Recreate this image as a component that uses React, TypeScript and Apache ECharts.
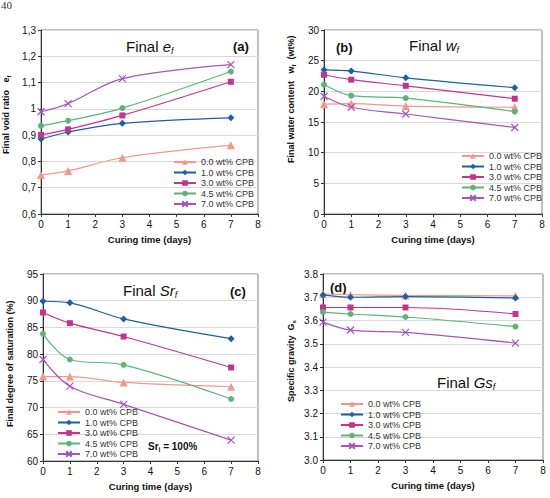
import React, { useEffect, useRef } from 'react';
import * as echarts from 'echarts';

// Curing times (days) shared by all four panels
const days = [0, 1, 3, 7];
const cpbLabels = ['0.0 wt% CPB', '1.0 wt% CPB', '3.0 wt% CPB', '4.5 wt% CPB', '7.0 wt% CPB'];
const xTicks = [0, 1, 2, 3, 4, 5, 6, 7, 8];

// (a) Final void ratio e_f
const voidRatio00 = [0.748, 0.764, 0.814, 0.862];
const voidRatio10 = [0.885, 0.912, 0.945, 0.966];
const voidRatio30 = [0.901, 0.922, 0.975, 1.103];
const voidRatio45 = [0.935, 0.955, 1.003, 1.142];
const voidRatio70 = [0.989, 1.02, 1.115, 1.168];

// (b) Final water content w_f (wt%)
const water00 = [17.9, 18.0, 17.6, 17.4];
const water10 = [23.5, 23.3, 22.2, 20.6];
const water30 = [22.7, 21.9, 20.9, 18.8];
const water45 = [21.1, 19.3, 18.9, 16.7];
const water70 = [19.2, 17.4, 16.3, 14.1];

// (c) Final degree of saturation Sr_f (%)
const sat00 = [75.8, 75.8, 74.7, 73.9];
const sat10 = [89.9, 89.6, 86.6, 82.9];
const sat30 = [87.8, 85.8, 83.3, 77.5];
const sat45 = [83.8, 79.0, 78.0, 71.6];
const sat70 = [79.0, 74.0, 70.6, 63.9];

// (d) Specific gravity Gs_f
const gravity00 = [3.714, 3.711, 3.708, 3.706];
const gravity10 = [3.71, 3.7, 3.703, 3.697];
const gravity30 = [3.656, 3.656, 3.656, 3.628];
const gravity45 = [3.636, 3.628, 3.615, 3.574];
const gravity70 = [3.593, 3.559, 3.549, 3.503];

const panelValues = [
  [voidRatio00, voidRatio10, voidRatio30, voidRatio45, voidRatio70],
  [water00, water10, water30, water45, water70],
  [sat00, sat10, sat30, sat45, sat70],
  [gravity00, gravity10, gravity30, gravity45, gravity70],
];

const FONT = '"Liberation Sans", Arial, Helvetica, sans-serif';
const TEXT = '#111';
const colors = ['#F4978B', '#1F5DA8', '#C4338C', '#5DB37A', '#A455BE'];
const symbols = ['triangle', 'diamond', 'rect', 'circle', 'path://M0,0L10,10M10,0L0,10'];
const symbolSizes = [8, 7, 6, 6, 7];

const grids = [
  { left: 41, top: 30, width: 217, height: 184 },
  { left: 324, top: 30, width: 218, height: 184 },
  { left: 43, top: 274, width: 215, height: 187 },
  { left: 323, top: 274, width: 220, height: 186 },
];

const yRanges = [
  { min: 0.6, max: 1.3, interval: 0.1, fmt: (v: number) => String(Math.round(v * 10) / 10).replace('.', ',') },
  { min: 0, max: 30, interval: 5, fmt: (v: number) => String(v) },
  { min: 60, max: 95, interval: 5, fmt: (v: number) => String(v) },
  { min: 3.0, max: 3.8, interval: 0.1, fmt: (v: number) => v.toFixed(1) },
];

const legendPos = [
  { left: 173, top: 157 },
  { left: 461, top: 151 },
  { left: 57, top: 407 },
  { left: 340, top: 399 },
];

type Part = { t: string; size: number; bold?: boolean; italic?: boolean; dy?: number };

function makeMeasure() {
  const ctx = document.createElement('canvas').getContext('2d') as CanvasRenderingContext2D;
  return (p: Part) => {
    ctx.font = `${p.italic ? 'italic' : 'normal'} ${p.bold ? 'bold' : 'normal'} ${p.size}px ${FONT}`;
    return ctx.measureText(p.t).width;
  };
}

function runChildren(parts: Part[], measure: (p: Part) => number) {
  let x = 0;
  return parts.map((p) => {
    const el = {
      type: 'text',
      x,
      y: p.dy ?? 0,
      style: {
        text: p.t,
        fontSize: p.size,
        fontWeight: p.bold ? 'bold' : 'normal',
        fontStyle: p.italic ? 'italic' : 'normal',
        fontFamily: FONT,
        fill: TEXT,
        align: 'left',
        verticalAlign: 'middle',
      },
    };
    x += measure(p);
    return el;
  });
}

export default function App() {
  const ref = useRef<HTMLDivElement>(null);

  useEffect(() => {
    if (!ref.current) return;
    const chart = echarts.init(ref.current, undefined, { renderer: 'svg' });
    const measure = makeMeasure();

    const textRun = (x: number, y: number, parts: Part[], rotated = false) => ({
      type: 'group',
      x,
      y,
      rotation: rotated ? Math.PI / 2 : 0,
      children: runChildren(parts, measure),
    });

    const series: any[] = [];
    panelValues.forEach((group, i) => {
      group.forEach((vals, j) => {
        series.push({
          type: 'line',
          name: cpbLabels[j],
          xAxisIndex: i,
          yAxisIndex: i,
          data: days.map((d, k) => [d, vals[k]]),
          smooth: 0.35,
          symbol: symbols[j],
          symbolSize: symbolSizes[j],
          showSymbol: true,
          lineStyle: { color: colors[j], width: 1.2 },
          itemStyle: { color: colors[j], borderColor: colors[j], borderWidth: j === 4 ? 1.2 : 0 },
        });
      });
    });

    const graphic: any[] = [
      // page number at the very top
      {
        type: 'text',
        x: 1,
        y: -1,
        style: { text: '40', fontSize: 11, fontFamily: '"Liberation Serif", "DejaVu Serif", serif', fill: '#333', verticalAlign: 'top' },
      },
      // panel titles
      textRun(126, 46, [
        { t: 'Final ', size: 15 },
        { t: 'e', size: 15, italic: true },
        { t: 'f', size: 9, italic: true, dy: 5 },
      ]),
      textRun(409, 45, [
        { t: 'Final ', size: 15 },
        { t: 'w', size: 15, italic: true },
        { t: 'f', size: 9, italic: true, dy: 5 },
      ]),
      textRun(123, 290, [
        { t: 'Final ', size: 15 },
        { t: 'Sr', size: 15, italic: true },
        { t: 'f', size: 9, italic: true, dy: 5 },
      ]),
      textRun(437, 382, [
        { t: 'Final ', size: 15 },
        { t: 'Gs', size: 15, italic: true },
        { t: 'f', size: 9, italic: true, dy: 5 },
      ]),
      textRun(233, 46, [{ t: '(a)', size: 13, bold: true }]),
      textRun(336, 47, [{ t: '(b)', size: 13, bold: true }]),
      textRun(230, 291, [{ t: '(c)', size: 13, bold: true }]),
      textRun(330, 287, [{ t: '(d)', size: 13, bold: true }]),
      textRun(148, 446, [
        { t: 'Sr', size: 10, bold: true },
        { t: 'i', size: 6.5, bold: true, dy: 3 },
        { t: ' = 100%', size: 10, bold: true },
      ]),
      // rotated y-axis titles
      textRun(6, 154, [
        { t: 'Final void ratio   ', size: 9, bold: true },
        { t: 'e', size: 9, bold: true },
        { t: 'f', size: 6, bold: true, dy: 3 },
      ], true),
      textRun(291, 163, [
        { t: 'Final water content   ', size: 9, bold: true },
        { t: 'w', size: 9, bold: true },
        { t: 'f', size: 6, bold: true, dy: 3 },
        { t: '  (wt%)', size: 9, bold: true },
      ], true),
      textRun(10, 427, [{ t: 'Final degree of saturation (%)', size: 9, bold: true }], true),
      textRun(291, 402, [
        { t: 'Specific gravity  ', size: 9, bold: true },
        { t: 'G', size: 9, bold: true },
        { t: 's', size: 6, bold: true, dy: 3 },
      ], true),
    ];

    chart.setOption({
      animation: false,
      backgroundColor: '#fff',
      grid: grids.map((g) => ({ ...g, show: true, borderColor: '#808080', borderWidth: 1, backgroundColor: 'transparent' })),
      xAxis: grids.map((_, i) => ({
        type: 'value',
        gridIndex: i,
        min: xTicks[0],
        max: xTicks[xTicks.length - 1],
        interval: 1,
        name: 'Curing time (days)',
        nameLocation: 'middle',
        nameGap: 20,
        nameTextStyle: { fontSize: 9.5, fontWeight: 'bold', color: TEXT, fontFamily: FONT },
        axisLine: { show: true, lineStyle: { color: '#333', width: 1 } },
        axisTick: { show: true, inside: false, length: 3, lineStyle: { color: '#333' } },
        axisLabel: { fontSize: 10, color: TEXT, fontFamily: FONT, margin: 5 },
        splitLine: { show: false },
      })),
      yAxis: yRanges.map((r, i) => ({
        type: 'value',
        gridIndex: i,
        min: r.min,
        max: r.max,
        interval: r.interval,
        axisLine: { show: true, lineStyle: { color: '#333', width: 1 } },
        axisTick: { show: true, inside: false, length: 3, lineStyle: { color: '#333' } },
        axisLabel: { fontSize: 10, color: TEXT, fontFamily: FONT, margin: 5, formatter: r.fmt },
        splitLine: { show: true, lineStyle: { color: '#d9d9d9', width: 1 } },
      })),
      legend: legendPos.map((p) => ({
        data: cpbLabels,
        orient: 'vertical',
        left: p.left,
        top: p.top,
        padding: 0,
        itemWidth: 22,
        itemHeight: 7,
        itemGap: 0.5,
        selectedMode: false,
        textStyle: { fontSize: 9, color: '#333', fontFamily: FONT, lineHeight: 10 },
      })),
      series,
      graphic,
    });

    return () => chart.dispose();
  }, []);

  return (
    <div
      ref={ref}
      style={{ position: 'absolute', left: 0, top: 0, width: 550, height: 498, background: '#fff' }}
    />
  );
}
